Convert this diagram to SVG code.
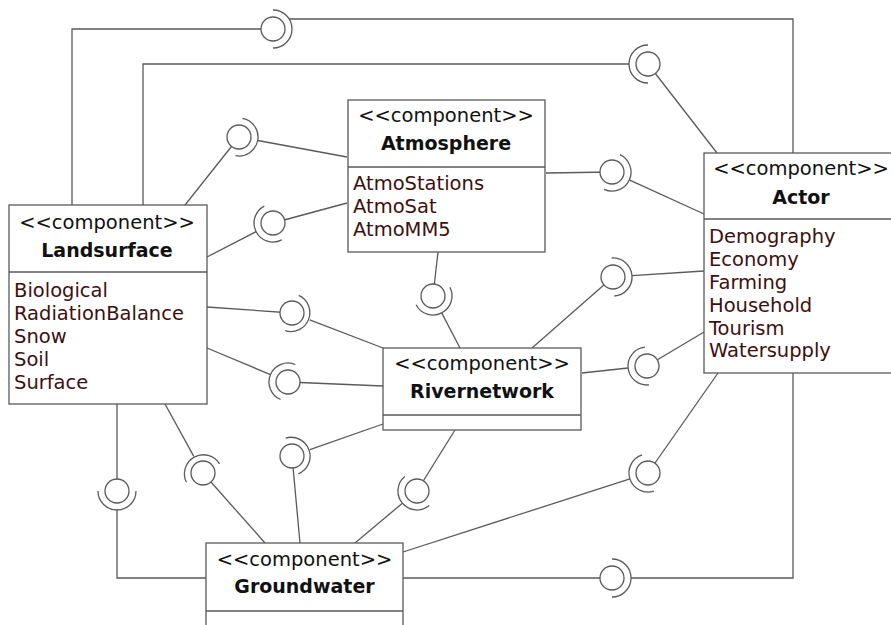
<svg xmlns="http://www.w3.org/2000/svg" width="891" height="625" viewBox="0 0 891 625">
<style>
.ln{fill:none;stroke:#5a5a5a;stroke-width:1.3}
.ball{fill:#fff;stroke:#5a5a5a;stroke-width:1.3}
.sock{fill:none;stroke:#5a5a5a;stroke-width:1.3}
.box{fill:#fff;stroke:#5a5a5a;stroke-width:1.3}
.st{font-family:"DejaVu Sans","Liberation Sans",sans-serif;font-size:19.5px;fill:#111;text-anchor:middle}
.nm{font-family:"DejaVu Sans","Liberation Sans",sans-serif;font-size:19px;font-weight:bold;fill:#111;text-anchor:middle}
.at{font-family:"DejaVu Sans","Liberation Sans",sans-serif;font-size:19.5px;fill:#3d1010}
</style>
<rect width="891" height="625" fill="#fff"/>
<g id="connectors">
  <!-- provider lines (to ball centre) -->
  <polyline class="ln" points="72,205 72,29 273,29"/>
  <line class="ln" x1="717" y1="153" x2="648" y2="64"/>
  <line class="ln" x1="185" y1="205" x2="239" y2="137"/>
  <line class="ln" x1="347" y1="203" x2="273" y2="223"/>
  <line class="ln" x1="207" y1="307" x2="292" y2="313"/>
  <line class="ln" x1="383" y1="386" x2="288" y2="382"/>
  <line class="ln" x1="438" y1="252" x2="433" y2="296"/>
  <line class="ln" x1="546" y1="173" x2="612" y2="172"/>
  <line class="ln" x1="532" y1="348" x2="613" y2="277"/>
  <line class="ln" x1="704" y1="332" x2="647" y2="366"/>
  <line class="ln" x1="718" y1="373" x2="648" y2="473"/>
  <line class="ln" x1="403" y1="578" x2="612" y2="578"/>
  <line class="ln" x1="117" y1="404" x2="117" y2="491"/>
  <line class="ln" x1="265" y1="543" x2="203" y2="473"/>
  <line class="ln" x1="300" y1="543" x2="292" y2="456"/>
  <line class="ln" x1="455" y1="430" x2="417" y2="491"/>
  <!-- requirer lines (to socket) -->
  <polyline class="ln" points="793,153 793,19 289,19"/>
  <polyline class="ln" points="143,205 143,64 629,64"/>
  <line class="ln" x1="257.7" y1="140.5" x2="347" y2="157"/>
  <line class="ln" x1="207" y1="257" x2="256.1" y2="231.7"/>
  <line class="ln" x1="309.7" y1="319.8" x2="383" y2="348"/>
  <line class="ln" x1="207" y1="348" x2="270.5" y2="374.6"/>
  <line class="ln" x1="441.7" y1="312.9" x2="460" y2="348"/>
  <line class="ln" x1="629.3" y1="179.9" x2="704" y2="214"/>
  <line class="ln" x1="632" y1="275.7" x2="704" y2="271"/>
  <line class="ln" x1="582" y1="373" x2="628.1" y2="368"/>
  <line class="ln" x1="403" y1="552" x2="629.9" y2="478.9"/>
  <polyline class="ln" points="793,373 793,578 631,578"/>
  <polyline class="ln" points="206,578 117,578 117,510"/>
  <line class="ln" x1="165" y1="404" x2="193.8" y2="456.4"/>
  <line class="ln" x1="383" y1="424" x2="309.9" y2="449.7"/>
  <line class="ln" x1="355" y1="543" x2="402.4" y2="503.2"/>
  <!-- balls -->
  <circle class="ball" cx="273" cy="29" r="12"/>
  <circle class="ball" cx="648" cy="64" r="12"/>
  <circle class="ball" cx="239" cy="137" r="12"/>
  <circle class="ball" cx="273" cy="223" r="12"/>
  <circle class="ball" cx="292" cy="313" r="12"/>
  <circle class="ball" cx="288" cy="382" r="12"/>
  <circle class="ball" cx="433" cy="296" r="12"/>
  <circle class="ball" cx="612" cy="172" r="12"/>
  <circle class="ball" cx="613" cy="277" r="12"/>
  <circle class="ball" cx="647" cy="366" r="12"/>
  <circle class="ball" cx="648" cy="473" r="12"/>
  <circle class="ball" cx="612" cy="578" r="12"/>
  <circle class="ball" cx="117" cy="491" r="12"/>
  <circle class="ball" cx="203" cy="473" r="12"/>
  <circle class="ball" cx="292" cy="456" r="12"/>
  <circle class="ball" cx="417" cy="491" r="12"/>
  <!-- sockets -->
  <path class="sock" d="M273,10 A19,19 0 0 1 273,48"/>
  <path class="sock" d="M648,83 A19,19 0 0 1 648,45"/>
  <path class="sock" d="M242.5,118.3 A19,19 0 0 1 235.5,155.7"/>
  <path class="sock" d="M281.7,239.9 A19,19 0 0 1 264.3,206.1"/>
  <path class="sock" d="M298.8,295.3 A19,19 0 0 1 285.2,330.7"/>
  <path class="sock" d="M280.6,399.5 A19,19 0 0 1 295.4,364.5"/>
  <path class="sock" d="M449.9,287.3 A19,19 0 0 1 416.1,304.7"/>
  <path class="sock" d="M619.9,154.7 A19,19 0 0 1 604.1,189.3"/>
  <path class="sock" d="M611.7,258 A19,19 0 0 1 614.3,296"/>
  <path class="sock" d="M649,384.9 A19,19 0 0 1 645,347.1"/>
  <path class="sock" d="M653.9,491.1 A19,19 0 0 1 642.1,454.9"/>
  <path class="sock" d="M612,559 A19,19 0 0 1 612,597"/>
  <path class="sock" d="M136,491 A19,19 0 0 1 98,491"/>
  <path class="sock" d="M186.4,482.2 A19,19 0 0 1 219.6,463.8"/>
  <path class="sock" d="M285.7,438.1 A19,19 0 0 1 298.3,473.9"/>
  <path class="sock" d="M429.2,505.6 A19,19 0 0 1 404.8,476.4"/>
</g>
<g id="landsurface">
  <rect class="box" x="9" y="205" width="198" height="199"/>
  <line class="ln" x1="9" y1="272" x2="207" y2="272"/>
  <text class="st" x="107" y="229">&lt;&lt;component&gt;&gt;</text>
  <text class="nm" x="107" y="257">Landsurface</text>
  <text class="at" x="14" y="297">Biological</text>
  <text class="at" x="14" y="320">RadiationBalance</text>
  <text class="at" x="14" y="343">Snow</text>
  <text class="at" x="14" y="366">Soil</text>
  <text class="at" x="14" y="389">Surface</text>
</g>
<g id="atmosphere">
  <rect class="box" x="348" y="100" width="197" height="152"/>
  <line class="ln" x1="348" y1="167" x2="545" y2="167"/>
  <text class="st" x="446" y="122">&lt;&lt;component&gt;&gt;</text>
  <text class="nm" x="446" y="150">Atmosphere</text>
  <text class="at" x="353" y="190">AtmoStations</text>
  <text class="at" x="353" y="213">AtmoSat</text>
  <text class="at" x="353" y="236">AtmoMM5</text>
</g>
<g id="actor">
  <rect class="box" x="704" y="153" width="193" height="220"/>
  <line class="ln" x1="704" y1="219" x2="897" y2="219"/>
  <text class="st" x="801" y="175">&lt;&lt;component&gt;&gt;</text>
  <text class="nm" x="801" y="204">Actor</text>
  <text class="at" x="709" y="243">Demography</text>
  <text class="at" x="709" y="266">Economy</text>
  <text class="at" x="709" y="289">Farming</text>
  <text class="at" x="709" y="312">Household</text>
  <text class="at" x="709" y="335">Tourism</text>
  <text class="at" x="709" y="357">Watersupply</text>
</g>
<g id="rivernetwork">
  <rect class="box" x="383" y="348" width="198" height="82"/>
  <line class="ln" x1="383" y1="415" x2="581" y2="415"/>
  <text class="st" x="482" y="370">&lt;&lt;component&gt;&gt;</text>
  <text class="nm" x="482" y="398">Rivernetwork</text>
</g>
<g id="groundwater">
  <rect class="box" x="206" y="543" width="197" height="100"/>
  <line class="ln" x1="206" y1="611" x2="403" y2="611"/>
  <text class="st" x="304.5" y="566">&lt;&lt;component&gt;&gt;</text>
  <text class="nm" x="304.5" y="593">Groundwater</text>
</g>
</svg>
